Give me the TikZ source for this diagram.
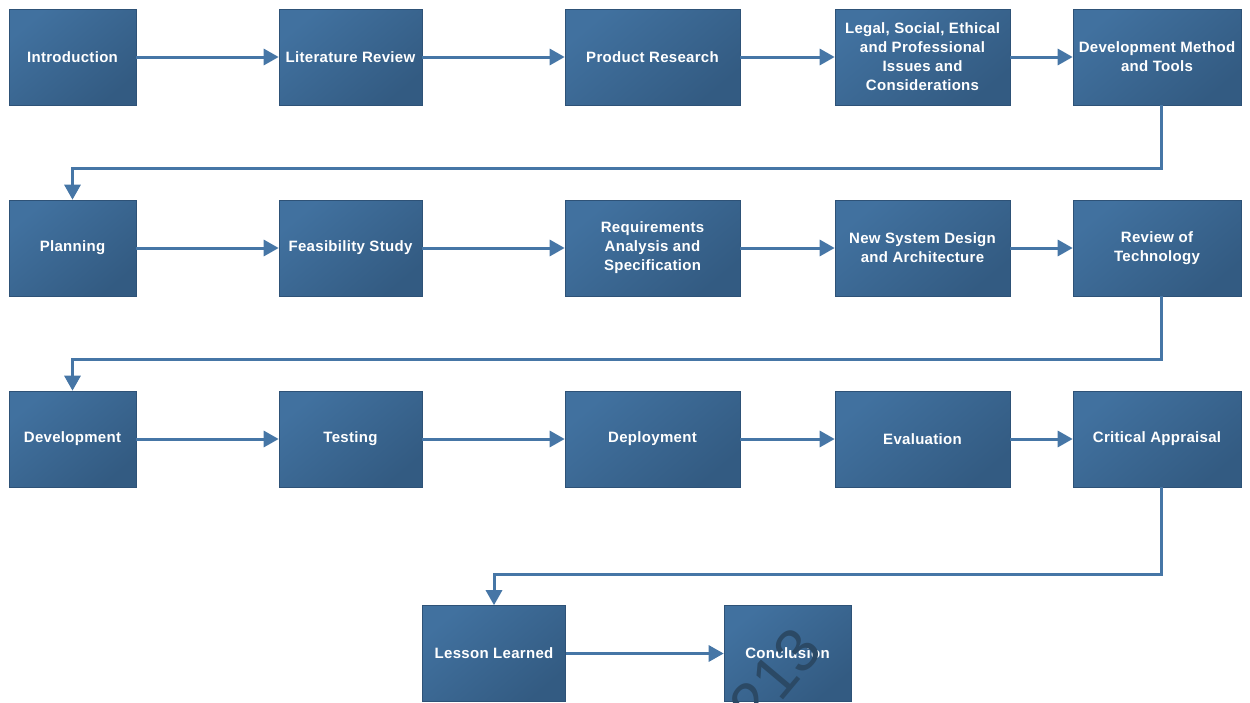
\documentclass[tikz,border=0pt]{standalone}
\usepackage{fontspec}
\setmainfont{Liberation Sans}
\usetikzlibrary{arrows.meta}
\definecolor{boxlight}{HTML}{41719F}
\definecolor{boxdark}{HTML}{335B82}
\definecolor{boxedge}{HTML}{2E5277}
\definecolor{flow}{HTML}{4676A6}
\definecolor{stamp}{HTML}{2B4965}
\begin{document}
\begin{tikzpicture}[x=1pt,y=-1pt,
  stage/.style={draw=boxedge, line width=0.6pt, top color=boxlight, bottom color=boxdark,
    shading angle=40, minimum height=96pt, inner sep=0pt, align=center, text=white,
    font=\bfseries\fontsize{15}{19}\selectfont\addfontfeatures{LetterSpace=2}},
  flowline/.style={draw=flow, line width=3pt, -{Triangle[length=15pt,width=16pt]}}]
\useasboundingbox (0,0) rectangle (1250,702);
\clip (0,0) rectangle (1250,702);

% first row
\node[stage, minimum width=127pt] (intro) at (72.5,57) {Introduction};
\node[stage, minimum width=143pt] (lit) at (350.5,57) {Literature Review};
\node[stage, minimum width=175pt] (prod) at (652.5,57) {Product Research};
\node[stage, minimum width=175pt] (legal) at (922.5,57) {Legal, Social, Ethical\\and Professional\\Issues and\\Considerations};
\node[stage, minimum width=168pt] (method) at (1157,57) {Development Method\\and Tools};

% second row
\node[stage, minimum width=127pt] (plan) at (72.5,248) {Planning};
\node[stage, minimum width=143pt] (feas) at (350.5,248) {Feasibility Study};
\node[stage, minimum width=175pt] (req) at (652.5,248) {Requirements\\Analysis and\\Specification};
\node[stage, minimum width=175pt] (design) at (922.5,248) {New System Design\\and Architecture};
\node[stage, minimum width=168pt] (tech) at (1157,248) {Review of\\Technology};

% third row
\node[stage, minimum width=127pt] (dev) at (72.5,439) {Development};
\node[stage, minimum width=143pt] (test) at (350.5,439) {Testing};
\node[stage, minimum width=175pt] (deploy) at (652.5,439) {Deployment};
\node[stage, minimum width=175pt] (eval) at (922.5,439) {Evaluation};
\node[stage, minimum width=168pt] (crit) at (1157,439) {Critical Appraisal};

% last row
\node[stage, minimum width=143pt] (lesson) at (494,653.5) {Lesson Learned};
\node[stage, minimum width=127pt] (concl) at (787.5,653.5) {Conclusion};

% flow within rows
\draw[flowline] (intro.east) -- (lit.west);
\draw[flowline] (lit.east) -- (prod.west);
\draw[flowline] (prod.east) -- (legal.west);
\draw[flowline] (legal.east) -- (method.west);
\draw[flowline] (plan.east) -- (feas.west);
\draw[flowline] (feas.east) -- (req.west);
\draw[flowline] (req.east) -- (design.west);
\draw[flowline] (design.east) -- (tech.west);
\draw[flowline] (dev.east) -- (test.west);
\draw[flowline] (test.east) -- (deploy.west);
\draw[flowline] (deploy.east) -- (eval.west);
\draw[flowline] (eval.east) -- (crit.west);
\draw[flowline] (lesson.east) -- (concl.west);

% flow between rows
\draw[flowline] ([xshift=4pt]method.south) -- ++(0,63) -| (plan.north);
\draw[flowline] ([xshift=4pt]tech.south) -- ++(0,63) -| (dev.north);
\draw[flowline] ([xshift=4pt]crit.south) -- ++(0,87) -| (lesson.north);

% stamped number
\node[rotate=50, text=stamp, font=\fontsize{62}{62}\selectfont] (num) at (764,690) {1213};
\end{tikzpicture}
\end{document}
